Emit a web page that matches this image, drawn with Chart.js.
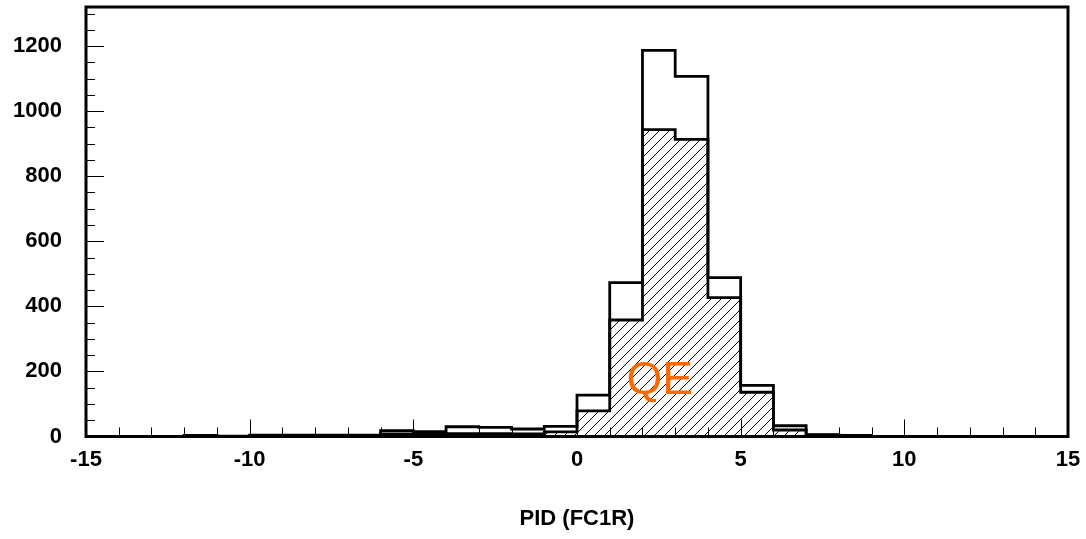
<!DOCTYPE html>
<html>
<head>
<meta charset="utf-8">
<title>PID (FC1R)</title>
<script src="https://cdn.jsdelivr.net/npm/chart.js@4.4.0/dist/chart.umd.min.js"></script>
<style>
  html, body { margin: 0; padding: 0; background: #fff; }
  #wrap { width: 1086px; height: 539px; }
</style>
</head>
<body>
<div id="wrap"><canvas id="myChart" width="1086" height="539"></canvas></div>
<script>
// lower edge of each bin (bin width 1)
var binEdges = [-15,-14,-13,-12,-11,-10,-9,-8,-7,-6,-5,-4,-3,-2,-1,0,1,2,3,4,5,6,7,8,9,10,11,12,13,14];
var upperEdge = 15;
// all events
var totalCounts = [0,0,0,3,1,4,4,4,4,18,15,30,28,23,31,127,473,1187,1107,488,157,33,6,3,0,0,0,0,0,0];
// QE events (hatched)
var qeCounts = [0,0,0,1,0,2,2,2,2,8,7,9,9,8,14,79,358,943,913,427,136,20,4,2,0,0,0,0,0,0];
var xTickLabels = [-15,-10,-5,0,5,10,15];
var yTickLabels = [0,200,400,600,800,1000,1200];
var xTitle = 'PID (FC1R)';
var annotation = 'QE';
var annotationX = 2.53;
var annotationY = 170;

function toSteps(counts){
    var pts = [];
    for(var i=0;i<binEdges.length;i++){
        pts.push({x: binEdges[i], y: counts[i]});
    }
    pts.push({x: upperEdge, y: 0});
    return pts;
}

function hatchPattern(){
    var c = document.createElement('canvas');
    c.width = 10; c.height = 10;
    var g = c.getContext('2d');
    g.strokeStyle = '#000';
    g.lineWidth = 1;
    g.beginPath();
    g.moveTo(-1, 11); g.lineTo(11, -1);
    g.moveTo(-1, 1); g.lineTo(1, -1);
    g.moveTo(9, 11); g.lineTo(11, 9);
    g.stroke();
    return g.createPattern(c, 'repeat');
}

var font = '"Liberation Sans", Arial, sans-serif';

// frame, inward ticks and the QE label
var frameTicks = {
    id: 'frameTicks',
    afterDraw: function(chart){
        var ctx = chart.ctx;
        var a = chart.chartArea;
        var xs = chart.scales.x, ys = chart.scales.y;
        ctx.save();
        ctx.font = '46px ' + font;
        ctx.fillStyle = '#ff6a00';
        ctx.textAlign = 'center';
        ctx.textBaseline = 'middle';
        ctx.fillText(annotation, xs.getPixelForValue(annotationX), ys.getPixelForValue(annotationY));

        ctx.strokeStyle = '#000';
        ctx.lineWidth = 1;
        ctx.beginPath();
        for(var v=-15; v<=15; v++){
            var px = Math.round(xs.getPixelForValue(v)) + 0.5;
            var len = (v % 5 === 0) ? 17 : 9;
            ctx.moveTo(px, a.bottom);
            ctx.lineTo(px, a.bottom - len);
        }
        for(var w=0; w<=1300; w+=50){
            var py = Math.round(ys.getPixelForValue(w)) + 0.5;
            var l2 = (w % 200 === 0) ? 18 : 9;
            ctx.moveTo(a.left, py);
            ctx.lineTo(a.left + l2, py);
        }
        ctx.stroke();

        ctx.lineWidth = 3;
        ctx.strokeRect(a.left, a.top, a.right - a.left, a.bottom - a.top);
        ctx.restore();
    }
};

var ctx = document.getElementById('myChart').getContext('2d');
var chart = new Chart(ctx, {
    type: 'line',
    data: {
        datasets: [{
            label: 'all',
            data: toSteps(totalCounts),
            stepped: true,
            borderColor: '#000',
            borderWidth: 2.8,
            pointRadius: 0,
            fill: false
        }, {
            label: 'QE',
            data: toSteps(qeCounts),
            stepped: true,
            borderColor: '#000',
            borderWidth: 2.8,
            pointRadius: 0,
            backgroundColor: hatchPattern(),
            fill: 'origin'
        }]
    },
    options: {
        responsive: false,
        animation: false,
        layout: { padding: { left: 0, right: 18, top: 7, bottom: 0 } },
        plugins: {
            legend: { display: false },
            tooltip: { enabled: false }
        },
        scales: {
            x: {
                type: 'linear',
                min: -15,
                max: 15,
                grid: { display: false, drawTicks: false },
                border: { display: false },
                afterBuildTicks: function(scale){
                    scale.ticks = xTickLabels.map(function(v){ return {value: v}; });
                },
                afterFit: function(scale){
                    scale.height = 102.5;
                    scale.paddingLeft = 0;
                    scale.paddingRight = 0;
                },
                ticks: {
                    color: '#000',
                    padding: 10,
                    maxRotation: 0,
                    autoSkip: false,
                    callback: function(v){ return String(v); },
                    font: { family: font, size: 22, weight: 'bold' }
                },
                title: {
                    display: true,
                    text: xTitle,
                    color: '#000',
                    padding: { top: 0, bottom: 7 },
                    font: { family: font, size: 22, weight: 'bold' }
                }
            },
            y: {
                min: 0,
                max: 1320,
                grid: { display: false, drawTicks: false },
                border: { display: false },
                afterBuildTicks: function(scale){
                    scale.ticks = yTickLabels.map(function(v){ return {value: v}; });
                },
                afterFit: function(scale){
                    scale.width = 86;
                    scale.paddingTop = 0;
                    scale.paddingBottom = 0;
                },
                ticks: {
                    color: '#000',
                    padding: 24,
                    callback: function(v){ return String(v); },
                    font: { family: font, size: 22, weight: 'bold' }
                }
            }
        }
    },
    plugins: [frameTicks]
});
</script>
</body>
</html>
